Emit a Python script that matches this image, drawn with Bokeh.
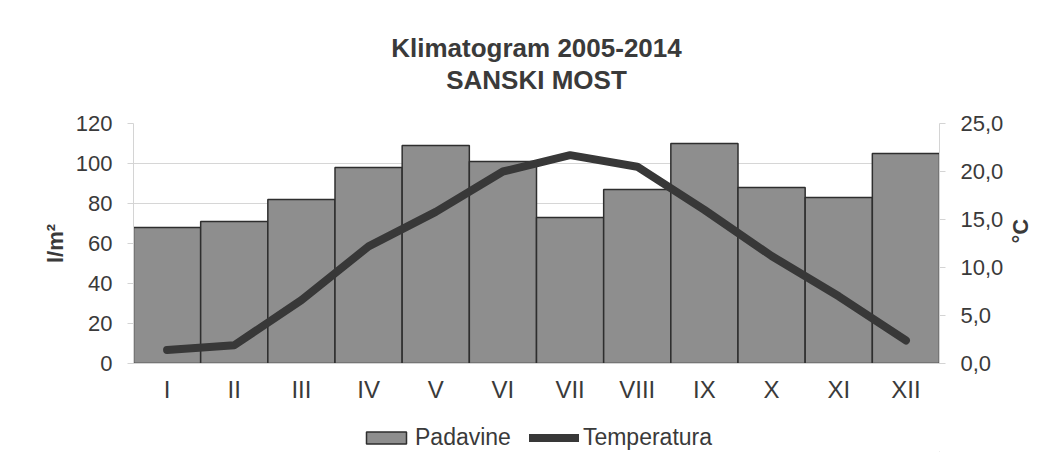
import math
from bokeh.plotting import figure
from bokeh.layouts import column
from bokeh.models import (ColumnDataSource, FactorRange, Range1d, LinearAxis, FixedTicker,
                          CustomJSTickFormatter, Legend, LegendItem, Title)
from bokeh.embed import file_html
from bokeh.resources import INLINE

months = ["I", "II", "III", "IV", "V", "VI", "VII", "VIII", "IX", "X", "XI", "XII"]
padavine = [68, 71, 82, 98, 109, 101, 73, 87, 110, 88, 83, 105]
temperatura = [1.4, 1.9, 6.6, 12.2, 15.8, 20.0, 21.7, 20.5, 16.0, 11.2, 7.0, 2.4]
y_ticks = [0, 20, 40, 60, 80, 100, 120]
t_ticks = [0, 5, 10, 15, 20, 25]

FONT = "Liberation Sans"
TXT = "#3a3a3a"
BAR_FILL = "#8e8e8e"
BAR_LINE = "#2e2e2e"
LINE_COL = "#383838"
W = 1048

src = ColumnDataSource(dict(m=months, p=padavine, t=temperatura))

p = figure(width=W, height=405, x_range=FactorRange(factors=months, range_padding=0),
           y_range=Range1d(0, 120), output_backend="svg", toolbar_location=None,
           min_border_left=133, min_border_right=W - 940, min_border_top=123, min_border_bottom=40)
p.extra_y_ranges = {"temp": Range1d(0, 25)}
p.outline_line_color = None
p.background_fill_color = "white"
p.border_fill_color = "white"

bars = p.vbar(x="m", top="p", width=1.0, source=src, fill_color=BAR_FILL,
              line_color=BAR_LINE, line_width=1.5)
line = p.line(x="m", y="t", source=src, y_range_name="temp", line_color=LINE_COL,
              line_width=8, line_cap="round", line_join="round")

p.yaxis[0].ticker = FixedTicker(ticks=y_ticks)
p.yaxis[0].axis_label = "l/m²"
rax = LinearAxis(y_range_name="temp", ticker=FixedTicker(ticks=t_ticks),
                 formatter=CustomJSTickFormatter(code="return tick.toFixed(1).replace('.', ',');"),
                 axis_label="°C\u00a0\u00a0\u00a0")
p.add_layout(rax, "right")

for ax in [p.yaxis[0], rax]:
    ax.major_label_text_font = FONT
    ax.major_label_text_font_size = "22px"
    ax.major_label_text_color = TXT
    ax.axis_label_text_font = FONT
    ax.axis_label_text_font_size = "22px"
    ax.axis_label_text_font_style = "bold"
    ax.axis_label_text_color = TXT
    ax.axis_line_color = "#d4d4d4"
    ax.major_tick_line_color = "#d4d4d4"
    ax.major_tick_out = 6
    ax.major_tick_in = 0
    ax.minor_tick_line_color = None
    ax.major_label_standoff = 15
p.yaxis[0].axis_label_standoff = 5
rax.axis_label_standoff = 14
rax.major_label_standoff = 15
rax.axis_label_orientation = math.pi / 2

xa = p.xaxis[0]
xa.major_label_text_font = FONT
xa.major_label_text_font_size = "24px"
xa.major_label_text_color = TXT
xa.axis_line_color = "#d4d4d4"
xa.major_tick_line_color = None
xa.minor_tick_line_color = None
xa.major_label_standoff = 6

p.xgrid.grid_line_color = None
p.ygrid.grid_line_color = "#d6d6d6"
p.ygrid.ticker = FixedTicker(ticks=y_ticks)

# titles: first added sits nearest the frame; a blank spacer keeps the gap
p.add_layout(Title(text=" ", text_font=FONT, text_font_size="20px", standoff=5), "above")
p.add_layout(Title(text="SANSKI MOST", align="center", text_font=FONT, text_font_size="26px",
                   text_font_style="bold", text_color=TXT, standoff=0), "above")
p.add_layout(Title(text="Klimatogram 2005-2014", align="center", text_font=FONT,
                   text_font_size="26px", text_font_style="bold", text_color=TXT, standoff=0), "above")

# legend strip below the chart
lg = figure(width=W, height=47, x_range=Range1d(0, 1), y_range=Range1d(0, 1),
            output_backend="svg", toolbar_location=None,
            min_border=0, min_border_left=0, min_border_right=0, min_border_top=0, min_border_bottom=0)
lg.axis.visible = False
lg.grid.visible = False
lg.outline_line_color = None
lbar = lg.vbar(x=[5], top=[-1], width=1.0, fill_color=BAR_FILL, line_color=BAR_LINE, line_width=1.5)
lline = lg.line(x=[5, 6], y=[-5, -5], line_color=LINE_COL, line_width=8, line_cap="round")
legend = Legend(items=[LegendItem(label="Padavine", renderers=[lbar]),
                       LegendItem(label="Temperatura", renderers=[lline])],
                orientation="horizontal", location=(228, 1),
                label_text_font=FONT, label_text_font_size="23px", label_text_color=TXT,
                glyph_width=50, glyph_height=15, spacing=18, border_line_color=None,
                background_fill_alpha=0, label_standoff=4, padding=2, margin=0)
lg.add_layout(legend, "center")

open("out.html", "w").write(file_html(column(p, lg, spacing=0), INLINE))
